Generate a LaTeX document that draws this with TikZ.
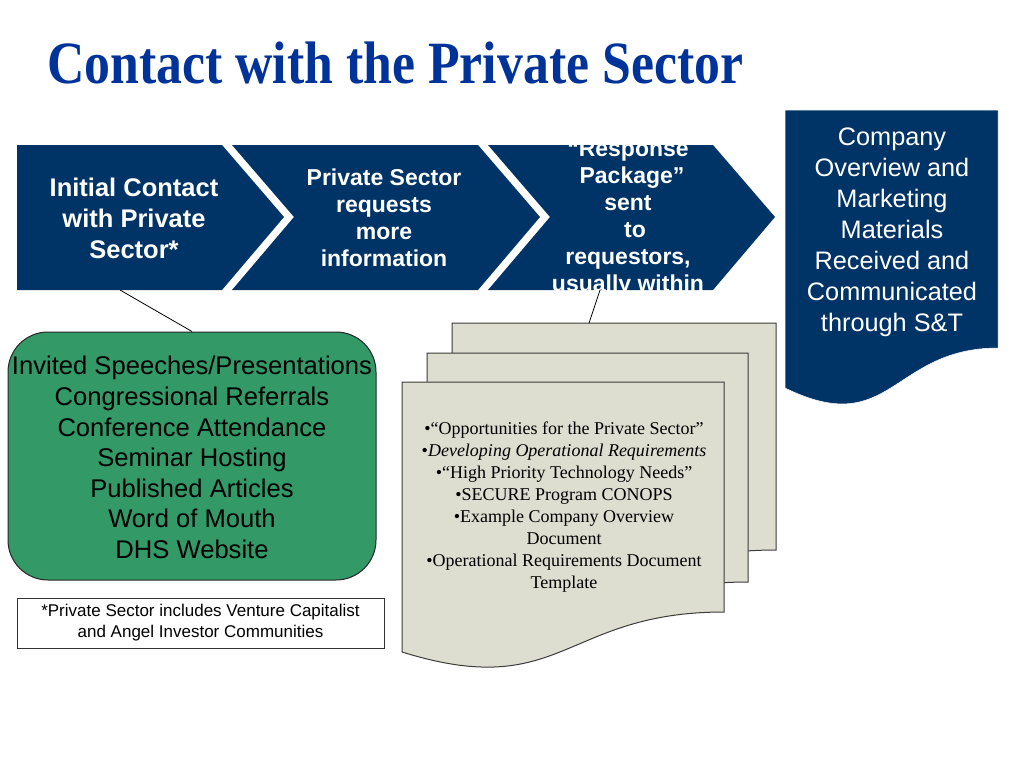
\documentclass[tikz,border=0pt]{standalone}
\usepackage{fontspec}
\setmainfont{Liberation Sans}
\newfontfamily\seriffont{Liberation Serif}
\definecolor{navy}{RGB}{0,51,102}
\definecolor{titleblue}{RGB}{0,51,153}
\definecolor{dgreen}{RGB}{51,153,102}
\definecolor{docgray}{RGB}{221,221,208}
\definecolor{edge}{RGB}{60,60,60}
\tikzset{
  chev/.style={fill=navy, draw=none},
  chevtext/.style={text=white, align=center, font=\bfseries\fontsize{23}{27}\selectfont},
  docshape/.style={fill=docgray, draw=edge, line width=1pt},
  link/.style={draw=black, line width=0.8pt},
}
\begin{document}
\begin{tikzpicture}[x=1pt,y=-1pt]
\useasboundingbox (0,0) rectangle (1024,768);
\fill[white] (0,0) rectangle (1024,768);

% title
\node[anchor=west, text=titleblue, font=\seriffont\bfseries\fontsize{60}{66}\selectfont, inner sep=0pt, xscale=0.863] (title) at (47,63) {Contact with the Private Sector};

% chevrons
\path[chev] (17,145) -- (222,145) -- (284,217) -- (222,290) -- (17,290) -- cycle;
\path[chev] (232,145) -- (478,145) -- (540,217) -- (478,290) -- (232,290) -- (294,217) -- cycle;
\path[chev] (488,145) -- (713,145) -- (775,217) -- (713,290) -- (488,290) -- (550,217) -- cycle;

\node[chevtext, font=\bfseries\fontsize{25.5}{31}\selectfont] (c1) at (134,218) {Initial Contact\\with Private\\Sector*};
\node[chevtext] (c2) at (384,218) {Private Sector\\requests\\more\\information};
\begin{scope}
\clip (488,145) -- (713,145) -- (775,217) -- (713,290) -- (488,290) -- (550,217) -- cycle;
\node[chevtext] (c3) at (628,218.5) {“Response\\\hspace*{8pt}Package”\\sent\\\hspace*{14pt}to\\requestors,\\usually within};
\end{scope}

% right document shape (navy)
\path[fill=navy, draw=white, line width=0.5pt] (785,110) -- (998,110) -- (998,348)
  .. controls (891.5,348) and (891.5,440) .. (785,388) -- cycle;
\node[text=white, align=center, font=\fontsize{25.3}{31}\selectfont] (co) at (892,232) {Company\\Overview and\\Marketing\\Materials\\Received and\\Communicated\\through S\&T};

% stacked documents
\path[docshape] (452,323) -- (776,323) -- (776,550)
  .. controls (614,550) and (614,636) .. (452,587) -- cycle;
\path[docshape] (427,353) -- (748,353) -- (748,582)
  .. controls (587.5,582) and (587.5,668) .. (427,619) -- cycle;
\path[docshape] (402,382) -- (724,382) -- (724,612)
  .. controls (563,612) and (563,702) .. (402,652) -- cycle;
\node[align=center, font=\seriffont\fontsize{18}{22}\selectfont] (docs) at (564,507.5) {•“Opportunities for the Private Sector”\\•\textit{Developing Operational Requirements}\\•“High Priority Technology Needs”\\•SECURE Program CONOPS\\•Example Company Overview\\Document\\•Operational Requirements Document\\Template};

% green box
\node[fill=dgreen, draw=black!85, line width=1pt, rounded corners=40pt, minimum width=368pt, minimum height=248pt, inner sep=0pt] (green) at (192,456) {};
\node[align=center, font=\fontsize{25.6}{30.6}\selectfont] (gtext) at (192,457.5) {Invited Speeches/Presentations\\Congressional Referrals\\Conference Attendance\\Seminar Hosting\\Published Articles\\Word of Mouth\\DHS Website};

% footnote
\node[draw=black!80, line width=0.8pt, minimum width=367pt, minimum height=50pt, inner sep=0pt] (fnbox) at (200.5,623) {};
\node[align=center, font=\fontsize{17}{21}\selectfont] (fn) at (200.5,622.5) {*Private Sector includes Venture Capitalist\\and Angel Investor Communities};

% connectors
\coordinate (c1b) at (120,290);
\coordinate (c3b) at (600,290);
\coordinate (dtop) at (589,323);
\draw[link] (c1b) -- (green.north);
\draw[link] (c3b) -- (dtop);
\end{tikzpicture}
\end{document}
